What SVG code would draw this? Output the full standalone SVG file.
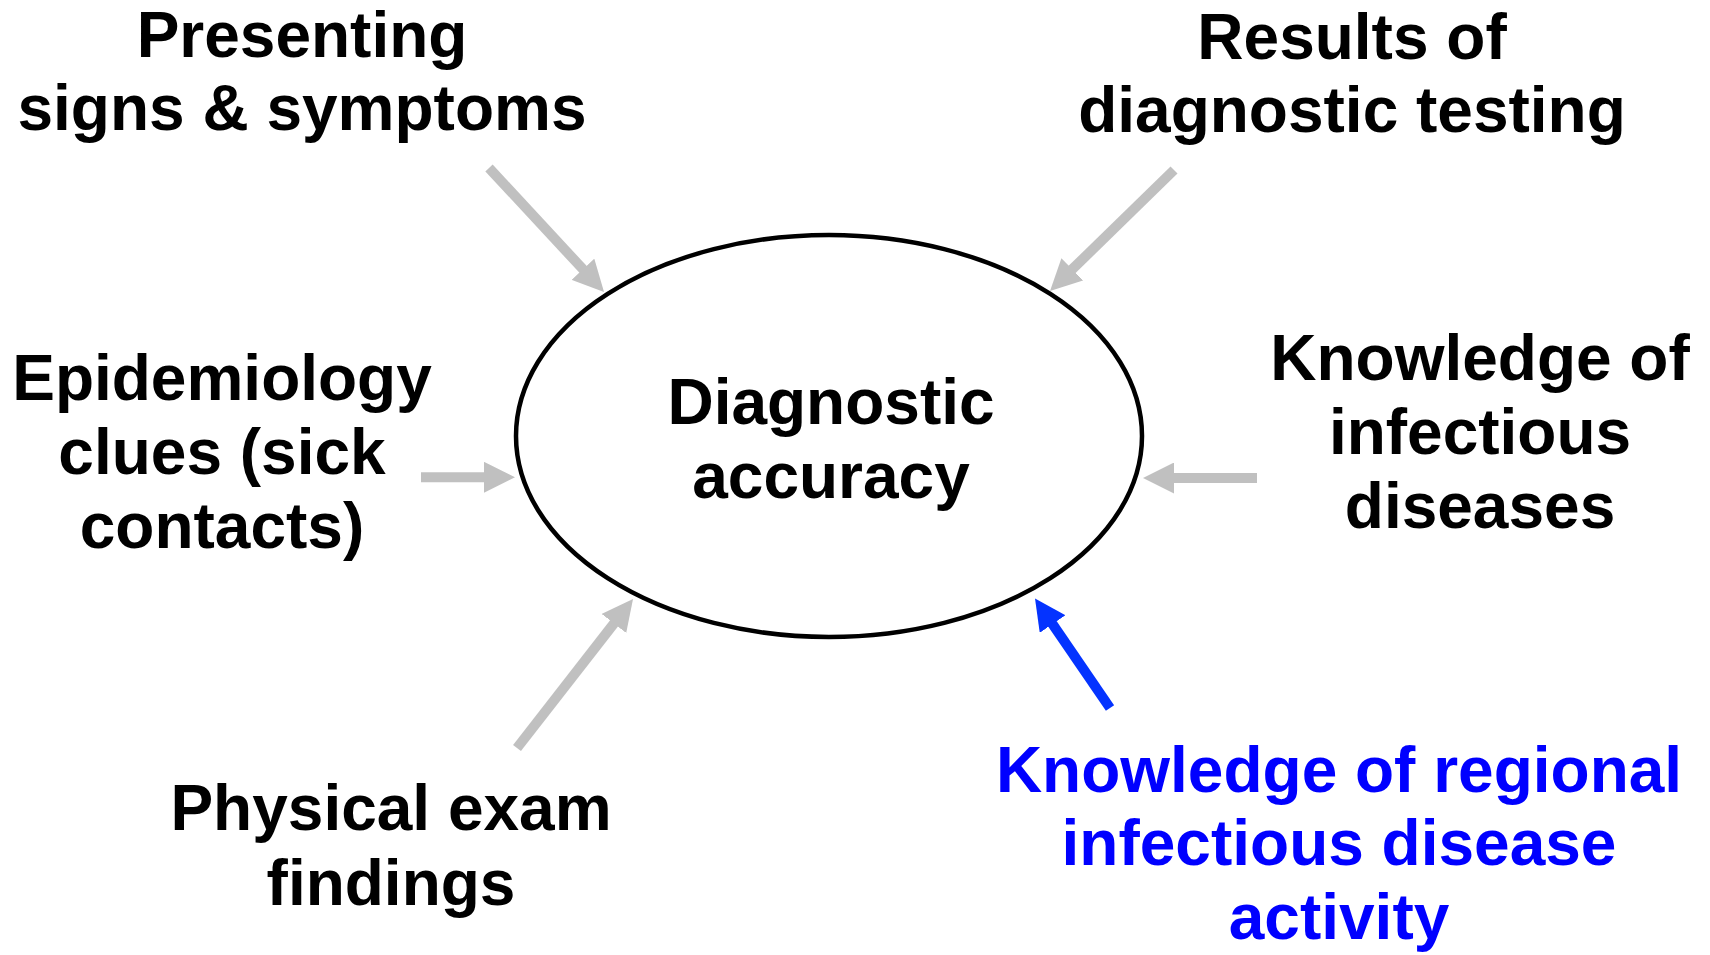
<svg xmlns="http://www.w3.org/2000/svg" width="1710" height="955" viewBox="0 0 1710 955">
<style>
  text { font-family: "Liberation Sans", Arial, Helvetica, sans-serif; font-weight: bold; font-size: 64px; text-anchor: middle; fill: #000; }
  .blue { fill: #0000ff; }
  .gray { stroke: #c0c0c0; stroke-width: 10; fill: none; }
  .bl { stroke: #0433ff; stroke-width: 10; fill: none; }
</style>
<defs>
  <marker id="hg" viewBox="0 0 31 31" refX="2" refY="15.5" markerWidth="31" markerHeight="31" markerUnits="userSpaceOnUse" orient="auto">
    <path d="M0,0 L31,15.5 L0,31 z" fill="#c0c0c0"/>
  </marker>
  <marker id="hb" viewBox="0 0 31 31" refX="2" refY="15.5" markerWidth="31" markerHeight="31" markerUnits="userSpaceOnUse" orient="auto">
    <path d="M0,0 L31,15.5 L0,31 z" fill="#0433ff"/>
  </marker>
</defs>
<rect width="1710" height="955" fill="#fff"/>
<g id="center">
  <ellipse cx="829" cy="436" rx="313" ry="201" fill="#fff" stroke="#000" stroke-width="4.5"/>
  <text x="831" y="424">Diagnostic</text>
  <text x="831" y="498">accuracy</text>
</g>
<g id="presenting">
  <text x="302" y="57">Presenting</text>
  <text x="302" y="130">signs &amp; symptoms</text>
</g>
<g id="results">
  <text x="1352" y="59">Results of</text>
  <text x="1352" y="132">diagnostic testing</text>
</g>
<g id="epidemiology">
  <text x="222" y="400">Epidemiology</text>
  <text x="222" y="474">clues (sick</text>
  <text x="222" y="548">contacts)</text>
</g>
<g id="knowledge">
  <text x="1480" y="380">Knowledge of</text>
  <text x="1480" y="454">infectious</text>
  <text x="1480" y="528">diseases</text>
</g>
<g id="physical">
  <text x="391" y="830">Physical exam</text>
  <text x="391" y="905">findings</text>
</g>
<g id="regional">
  <text class="blue" x="1339" y="792">Knowledge of regional</text>
  <text class="blue" x="1339" y="865">infectious disease</text>
  <text class="blue" x="1339" y="939">activity</text>
</g>
<g id="connectors">
  <line class="gray" x1="489" y1="168" x2="584.3" y2="270.7" marker-end="url(#hg)"/>
  <line class="gray" x1="1174" y1="170" x2="1070.8" y2="270.7" marker-end="url(#hg)"/>
  <line class="gray" x1="421" y1="477.3" x2="486" y2="477.3" marker-end="url(#hg)"/>
  <line class="gray" x1="1257" y1="478" x2="1172" y2="478" marker-end="url(#hg)"/>
  <line class="gray" x1="517" y1="748" x2="615.2" y2="621.9" marker-end="url(#hg)"/>
  <line class="bl" x1="1110" y1="708" x2="1051.4" y2="622.4" marker-end="url(#hb)"/>
</g>
</svg>
